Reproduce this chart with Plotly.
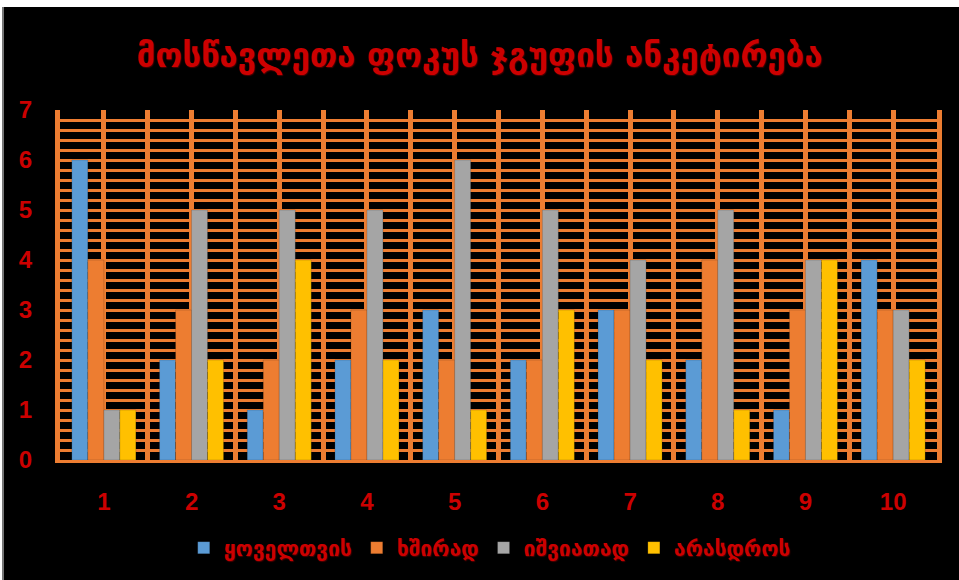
import plotly.graph_objects as go

categories = [1, 2, 3, 4, 5, 6, 7, 8, 9, 10]
series_names = ["ყოველთვის", "ხშირად", "იშვიათად", "არასდროს"]
always = [6, 2, 1, 2, 3, 2, 3, 2, 1, 4]
often = [4, 3, 2, 3, 2, 2, 3, 4, 3, 3]
rarely = [1, 5, 5, 5, 6, 5, 4, 5, 4, 3]
never = [1, 2, 4, 2, 1, 3, 2, 1, 4, 2]
colors = ["#5B9BD5", "#ED7D31", "#A5A5A5", "#FFC000"]
title_text = "მოსწავლეთა ფოკუს ჯგუფის ანკეტირება"

GRID = "#ED7D31"
RED = "#CC0000"

fig = go.Figure()
for name, vals, col in zip(series_names, [always, often, rarely, never], colors):
    fig.add_trace(go.Bar(
        x=categories, y=vals, name=name,
        marker=dict(color=col, line=dict(color="rgba(0,0,0,0.25)", width=0.6)),
    ))

H = 580
t, b = 110, 120
l, r = 60, 22
plot_h = H - t - b
plot_w = 959 - l - r

fig.update_layout(
    width=959, height=580,
    paper_bgcolor="black", plot_bgcolor="black",
    margin=dict(l=l, r=r, t=t, b=b),
    barmode="group", bargap=0.27, bargroupgap=0,
    title=dict(
        text=title_text, x=0.5, xref="container", xanchor="center",
        y=1 - 55 / H, yref="container", yanchor="middle",
        font=dict(family="DejaVu Sans", size=33, color=RED, weight="bold",
                  shadow="1px 1px 1px #4a0000"),
    ),
    legend=dict(
        orientation="h", x=0.49, xanchor="center", xref="paper",
        y=1 - 548 / H, yref="container", yanchor="middle",
        font=dict(family="DejaVu Sans", size=21, color=RED, weight="bold",
                  shadow="1px 1px 1px #4a0000"),
        itemwidth=30, traceorder="normal", bgcolor="rgba(0,0,0,0)",
    ),
    xaxis=dict(
        range=[0.5, 10.5], tickvals=categories,
        ticktext=[str(c) for c in categories],
        showgrid=True, gridcolor=GRID, gridwidth=5,
        minor=dict(tickvals=[c + 0.5 for c in [0] + categories],
                   showgrid=True, gridcolor=GRID, gridwidth=5, ticks=""),
        showline=True, linecolor=GRID, linewidth=3,
        ticks="outside", ticklen=18, tickcolor="rgba(0,0,0,0)",
        tickfont=dict(family="Liberation Sans", size=24, color=RED, weight="bold"),
        zeroline=False, fixedrange=True,
    ),
    yaxis=dict(
        range=[0, 7], dtick=1, tick0=0,
        showgrid=True, gridcolor=GRID, gridwidth=3,
        minor=dict(dtick=0.2, tick0=0, showgrid=True, gridcolor=GRID, gridwidth=3, ticks=""),
        showline=True, linecolor=GRID, linewidth=5, mirror=True,
        ticks="outside", ticklen=18, tickcolor="rgba(0,0,0,0)",
        tickfont=dict(family="Liberation Sans", size=24, color=RED, weight="bold"),
        zeroline=False, fixedrange=True,
    ),
    shapes=[
        dict(type="rect", xref="paper", yref="paper",
             x0=-1, x1=2, y0=1 + (t - 7) / plot_h, y1=1 + (t + 5) / plot_h,
             fillcolor="white", line=dict(width=0), layer="above"),
        dict(type="rect", xref="paper", yref="paper",
             x0=-(l - 2) / plot_w, x1=-(l - 4) / plot_w, y0=-b / plot_h - 0.01, y1=1 + (t - 7) / plot_h,
             fillcolor="#777777", line=dict(width=0), layer="above"),
        dict(type="rect", xref="paper", yref="paper",
             x0=-(l + 10) / plot_w, x1=-(l - 2) / plot_w, y0=-b / plot_h - 0.01, y1=1 + (t - 7) / plot_h,
             fillcolor="white", line=dict(width=0), layer="above"),
    ],
)

fig.write_html("out.html")
